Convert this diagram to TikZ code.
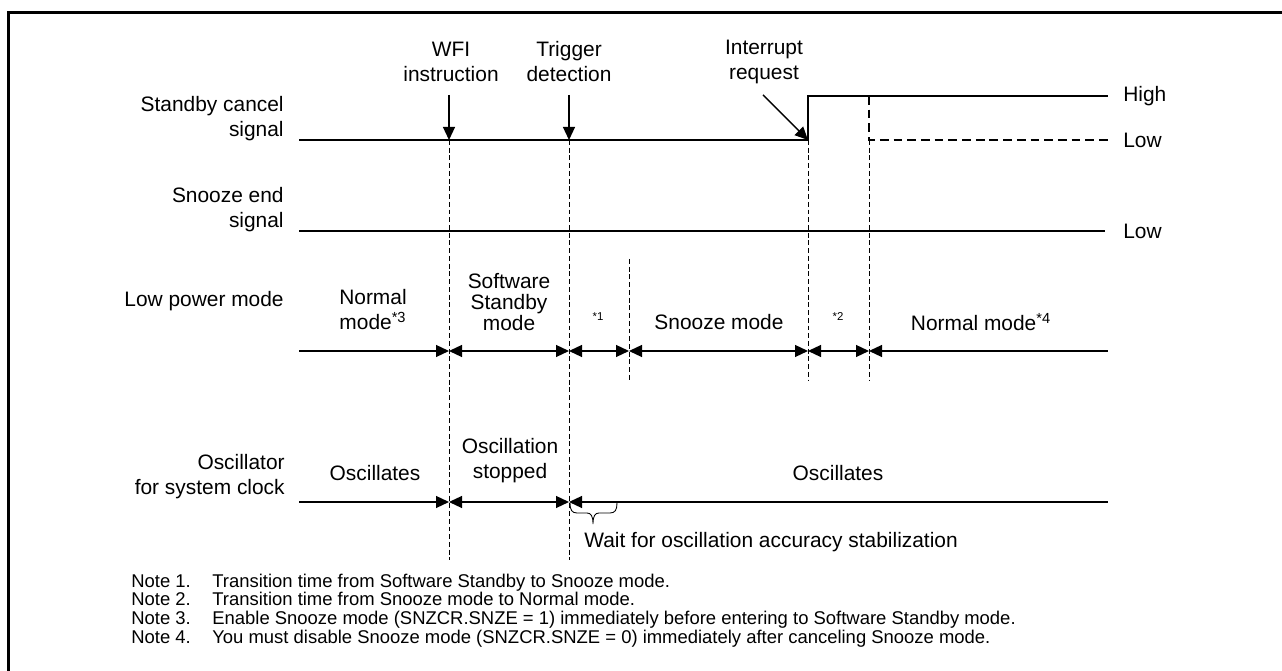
\documentclass[tikz,border=0pt]{standalone}
\usepackage{fontspec}
\setmainfont{Liberation Sans}
\usetikzlibrary{arrows.meta}

\begin{document}
\begin{tikzpicture}[
  x=0.02cm, y=-0.02cm,
  >={Triangle[length=7.4pt,width=6.8pt]},
  sig/.style={line width=0.8pt},
  arr/.style={->, line width=0.8pt},
  span/.style={<->, line width=0.8pt},
  guide/.style={dash pattern=on 2.8pt off 1.6pt, line width=0.55pt},
  alt/.style={dash pattern=on 5pt off 2.8pt, line width=1.3pt},
  lbl/.style={font=\fontsize{11.9}{14.2}\selectfont, align=center, inner sep=0pt},
  rowlbl/.style={lbl, align=right, anchor=east},
  lvl/.style={lbl, anchor=west},
  star/.style={font=\fontsize{6.5}{7}\selectfont, inner sep=0pt},
  note/.style={font=\fontsize{10.5}{11}\selectfont, inner sep=0pt, anchor=base west}
]
\useasboundingbox (0,0) rectangle (1282,671);
\draw[line width=1.7pt] (8.5,671) -- (8.5,12.5) -- (1282,12.5);

% time marks on each row
\foreach \n/\x in {s/299,wfi/449,trg/569,sz/629,irq/808,nm/869,e/1108}{
  \coordinate (\n-sc) at (\x,140);
  \coordinate (\n-lp) at (\x,351);
  \coordinate (\n-osc) at (\x,502);
}
\coordinate (irq-hi) at (808,96);
\coordinate (nm-hi) at (869,96);
\coordinate (e-hi) at (1108,96);
\coordinate (s-se) at (299,231);
\coordinate (e-se) at (1105,231);
\coordinate (wfi-top) at (449,95);
\coordinate (trg-top) at (569,95);
\coordinate (irq-top) at (763,95);

% row names
\node[rowlbl] (sclbl) at (284,119) {Standby cancel\\signal};
\node[rowlbl] (selbl) at (284,210) {Snooze end\\signal};
\node[rowlbl] (lplbl) at (284,301) {Low power mode};
\node[rowlbl] (osclbl) at (285,477) {Oscillator\\for system clock};

% events
\node[lbl] (wfi) at (451,62) {WFI\\instruction};
\node[lbl] (trg) at (569,62) {Trigger\\detection};
\node[lbl] (irq) at (764,62) {Interrupt\\request};
\draw[arr] (wfi-top) -- (wfi-sc);
\draw[arr] (trg-top) -- (trg-sc);
\draw[arr] (irq-top) -- (irq-sc);

% signals
\draw[sig] (s-sc) -- (irq-sc) -- (irq-hi) -- (e-hi);
\draw[alt] (nm-hi) -- (nm-sc) -- (e-sc);
\draw[sig] (s-se) -- (e-se);
\node[lvl] (hi) at (1123,96) {High};
\node[lvl] (lo1) at (1123,140) {Low};
\node[lvl] (lo2) at (1123,231) {Low};

% dashed guides
\draw[guide] (wfi-sc) -- (449,560);
\draw[guide] (trg-sc) -- (569,560);
\draw[guide] (irq-sc) -- (808,381);
\draw[guide] (nm-sc) -- (869,381);
\draw[guide] (629,259) -- (629,380);

% low power mode
\draw[arr] (s-lp) -- (wfi-lp);
\draw[span] (wfi-lp) -- (trg-lp);
\draw[span] (trg-lp) -- (sz-lp);
\draw[span] (sz-lp) -- (irq-lp);
\draw[span] (irq-lp) -- (nm-lp);
\draw[<-, sig] (nm-lp) -- (e-lp);
\node[lbl] (nm1) at (373,310) {Normal\\mode\textsuperscript{*3}};
\node[lbl, font=\fontsize{11.9}{12}\selectfont] (ssb) at (509,302) {Software\\Standby\\mode};
\node[star] (n1) at (598,317) {*1};
\node[lbl] (snz) at (719,322) {Snooze mode};
\node[star] (n2) at (838,317) {*2};
\node[lbl] (nm2) at (981,322) {Normal mode\textsuperscript{*4}};

% oscillator
\draw[arr] (s-osc) -- (wfi-osc);
\draw[span] (wfi-osc) -- (trg-osc);
\draw[<-, sig] (trg-osc) -- (e-osc);
\node[lbl] (osc1) at (375,473) {Oscillates};
\node[lbl] (osc2) at (510,461) {Oscillation\\stopped};
\node[lbl] (osc3) at (838,473) {Oscillates};
\draw[line width=0.5pt] (570,503) .. controls (570,510) and (572,513) .. (577,513) -- (587,513)
  .. controls (591,513) and (593,516) .. (593,524) .. controls (593,516) and (595,513) .. (599,513)
  -- (610,513) .. controls (615,513) and (617,510) .. (617,503);
\node[lbl, anchor=west] (wait) at (584,542) {Wait for oscillation accuracy stabilization};

% notes
\node[note] (k1) at (131,588) {Note 1.};
\node[note] (t1) at (212,588) {Transition time from Software Standby to Snooze mode.};
\node[note] (k2) at (131,606) {Note 2.};
\node[note] (t2) at (212,606) {Transition time from Snooze mode to Normal mode.};
\node[note] (k3) at (131,625) {Note 3.};
\node[note] (t3) at (212,625) {Enable Snooze mode (SNZCR.SNZE = 1) immediately before entering to Software Standby mode.};
\node[note] (k4) at (131,644) {Note 4.};
\node[note] (t4) at (212,644) {You must disable Snooze mode (SNZCR.SNZE = 0) immediately after canceling Snooze mode.};
\end{tikzpicture}
\end{document}
